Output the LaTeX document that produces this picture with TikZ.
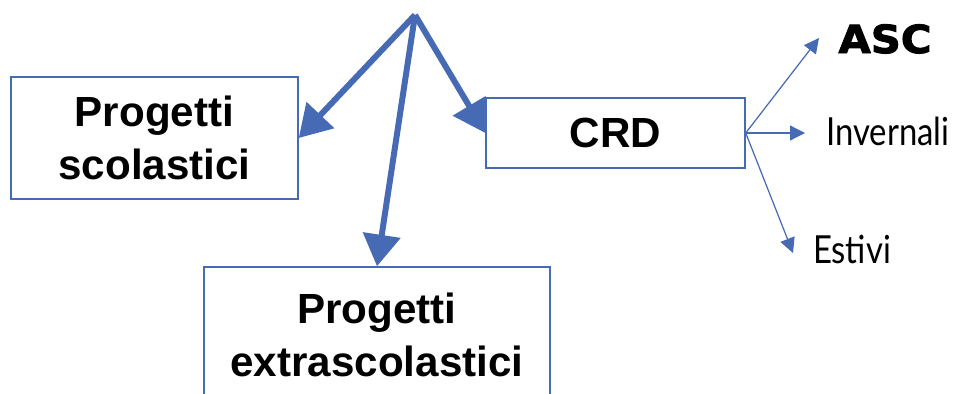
\documentclass[tikz,border=0pt]{standalone}
\usepackage{fontspec}
\setmainfont{Liberation Sans}
\newfontfamily\blackfont[FakeStretch=1.08,FakeBold=2.5]{DejaVu Sans}
\newfontfamily\gillfont[FakeStretch=0.85]{Lato}
\usetikzlibrary{arrows.meta}
\definecolor{linkblue}{RGB}{70,106,180}

\begin{document}
\begin{tikzpicture}[x=0.02cm, y=-0.02cm,
    box/.style={draw=linkblue, line width=0.85pt, align=center, inner sep=0pt,
        font=\fontsize{24}{30}\selectfont\bfseries},
    bigarrow/.style={draw=linkblue, line width=3.4pt, -{Triangle[length=18pt,width=21pt]}},
    smallarrow/.style={draw=linkblue, line width=0.7pt, -{Triangle[length=8.5pt,width=8.5pt]}},
    leaf/.style={font=\gillfont\fontsize{22}{26}\selectfont, anchor=base, inner sep=0pt}]
    \useasboundingbox (0,0) rectangle (957,393);
    \clip (0,0) rectangle (957,393);
    % boxes
    \node[box, minimum width=5.74cm, minimum height=2.44cm] (scol) at (154.5,138) {Progetti\\scolastici};
    \node[box, minimum width=5.18cm, minimum height=1.40cm] (crd) at (615.5,133) {CRD};
    \node[box, minimum width=6.92cm, minimum height=2.72cm] (extra) at (377,335) {Progetti\\extrascolastici};
    % labels on the right
    \node[anchor=base, inner sep=0pt, font=\blackfont\bfseries\fontsize{22}{26}\selectfont] (asc) at (885,53) {ASC};
    \node[leaf] (inv) at (888,145) {Invernali};
    \node[leaf] (est) at (852,263) {Estivi};
    % thick arrows from the top
    \coordinate (apex) at (415,15);
    \draw[bigarrow] (apex) -- (scol.east);
    \draw[bigarrow] (apex) -- (extra.north);
    \draw[bigarrow] (apex) -- (crd.west);
    % thin arrows
    \coordinate (toasc) at (819,38);
    \coordinate (toinv) at (805,133);
    \coordinate (toest) at (793,253);
    \foreach \t in {toasc,toinv,toest}
    \draw[smallarrow] (crd.east) -- (\t);
\end{tikzpicture}
\end{document}
